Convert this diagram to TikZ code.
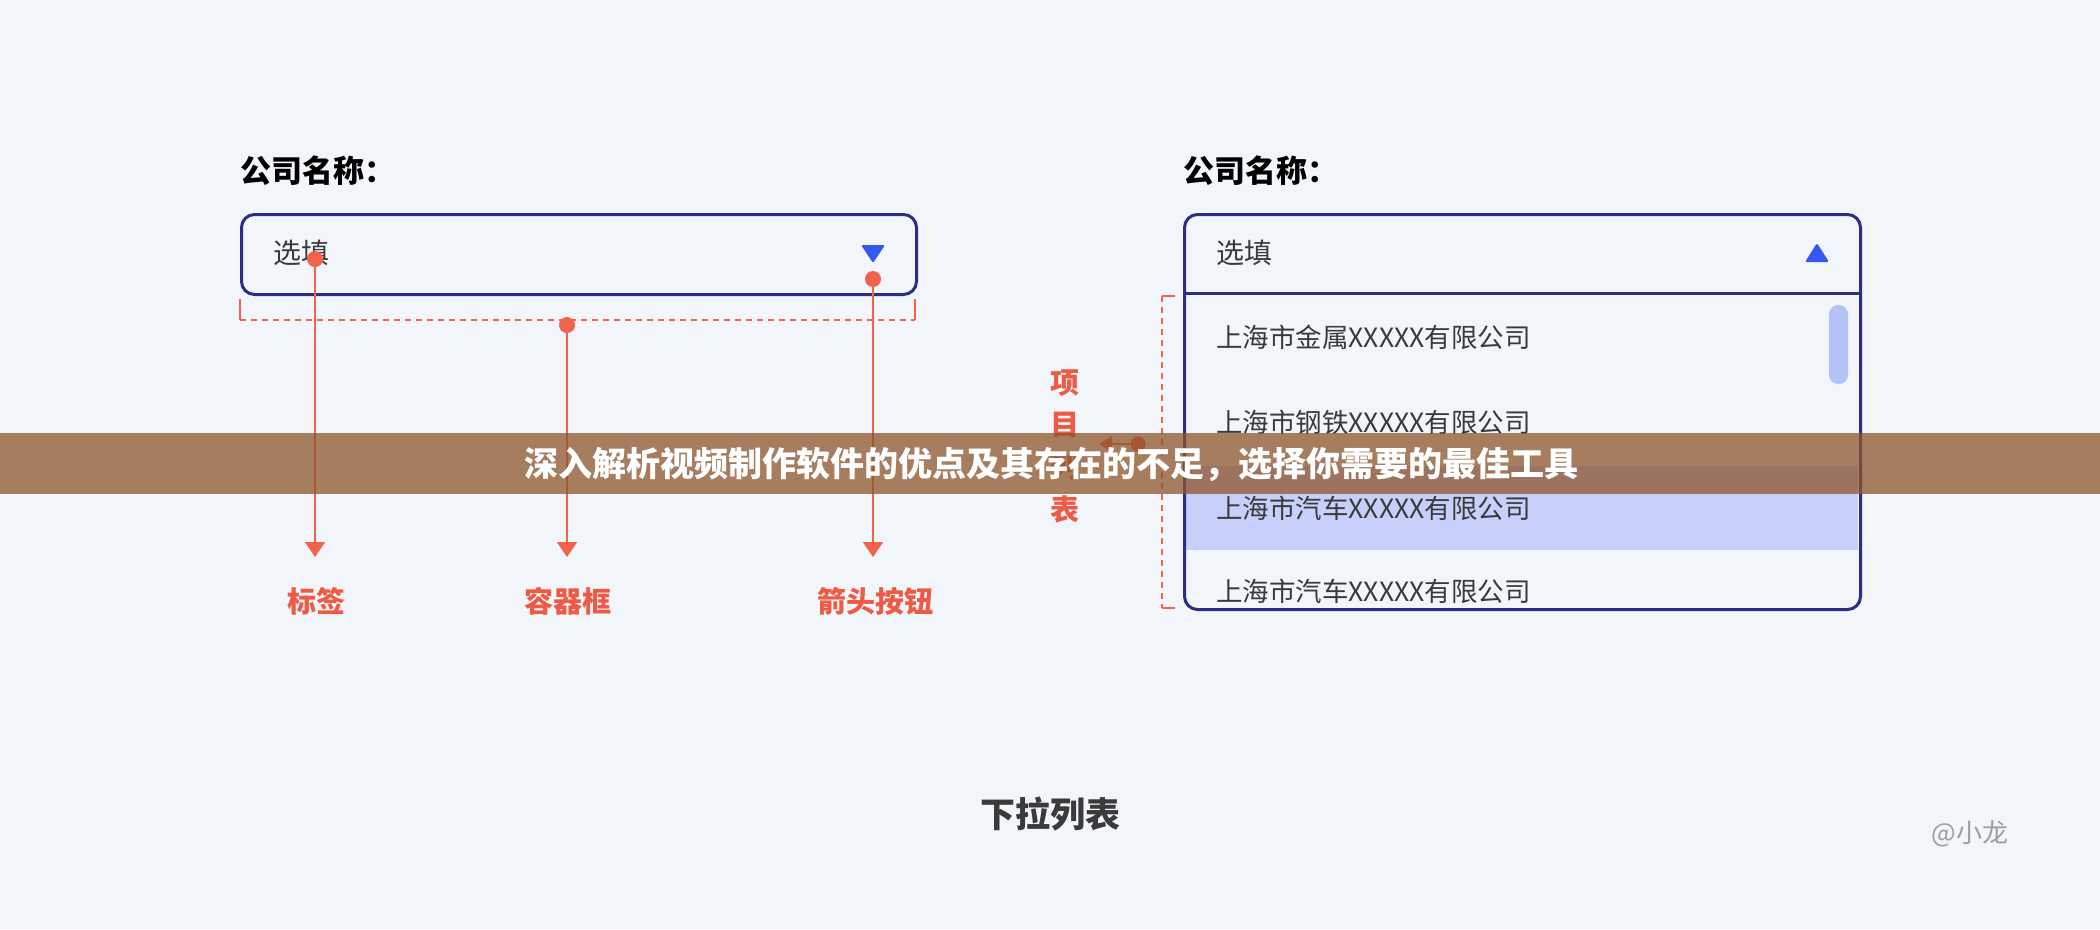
\documentclass[tikz,border=0pt]{standalone}
\usepackage{fontspec}
\usepackage{tikz}
\usetikzlibrary{arrows.meta,positioning,calc}
\newfontfamily\cjk{Noto Sans CJK SC}
\definecolor{pagebg}{HTML}{F2F5FA}
\definecolor{navyline}{HTML}{2B2E83}
\definecolor{arrowblue}{HTML}{3559F0}
\definecolor{redline}{HTML}{F2624C}
\definecolor{redtext}{HTML}{EF5A45}
\definecolor{darktext}{HTML}{3A3A3A}
\definecolor{hilite}{HTML}{C6D0FA}
\definecolor{scrollblue}{HTML}{B5C2F7}
\definecolor{bannerbrown}{HTML}{8D552A}
\definecolor{softgray}{HTML}{9E9E9E}

\begin{document}
\begin{tikzpicture}[x=1pt, y=-1pt, every node/.style={font=\cjk, inner sep=0pt},
  fieldbox/.style={draw=navyline, line width=3pt, rounded corners=13pt, anchor=north west},
  dotmark/.style={circle, fill=redline, minimum size=16pt},
  callout/.style={draw=redline, line width=1.6pt, -{Triangle[width=20pt, length=15pt]}},
  calloutlabel/.style={text=redtext, font=\cjk\bfseries\fontsize{29}{34}\selectfont},
  fieldtitle/.style={anchor=west, text=black, font=\cjk\bfseries\fontsize{31}{36}\selectfont},
  fieldvalue/.style={anchor=west, text=darktext, font=\cjk\fontsize{28}{32}\selectfont},
  listitem/.style={anchor=west, text=darktext, font=\cjk\fontsize{26.5}{30}\selectfont},
  bracket/.style={draw=redline, line width=1.4pt}]

  % page
  \fill[pagebg] (0,0) rectangle (2100,929);
  \useasboundingbox (0,0) rectangle (2100,929);

  % closed field
  \node[fieldtitle] (lefttitle) at (240,171) {公司名称：};
  \node[fieldbox, minimum width=675pt, minimum height=80pt] (leftbox) at (240,213) {};
  \node[fieldvalue] (leftvalue) at (273,253) {选填};
  \fill[arrowblue, rounded corners=1.5pt] (861,245) -- (885,245) -- (873,263) -- cycle;

  % callouts
  \draw[bracket] (240,299) -- (240,320);
  \draw[bracket] (915,299) -- (915,320);
  \draw[bracket, dash pattern=on 6pt off 5pt] (240,320) -- (915,320);

  \node[dotmark] (dotlabel) at (315,259) {};
  \node[dotmark] (dotbox) at (567,325) {};
  \node[dotmark] (dotarrow) at (873,279) {};
  \coordinate (tiplabel) at (315,557);
  \coordinate (tipbox) at (567,557);
  \coordinate (tiparrow) at (873,557);
  \draw[callout] (dotlabel.center) -- (tiplabel);
  \draw[callout] (dotbox.center) -- (tipbox);
  \draw[callout] (dotarrow.center) -- (tiparrow);

  \node[calloutlabel] (labeltext) at (316,601) {标签};
  \node[calloutlabel] (boxtext) at (568,601) {容器框};
  \node[calloutlabel] (arrowtext) at (875,601) {箭头按钮};

  % open field
  \node[fieldtitle] (righttitle) at (1183,171) {公司名称：};
  \fill[hilite] (1184.5,466) rectangle (1857.5,550);
  \node[fieldbox, minimum width=676pt, minimum height=395pt] (rightbox) at (1183,213) {};
  \draw[navyline, line width=3pt] (1183,293) -- (1859,293);
  \node[fieldvalue] (rightvalue) at (1216,253) {选填};
  \fill[arrowblue, rounded corners=1.5pt] (1805,262) -- (1829,262) -- (1817,243) -- cycle;
  \fill[scrollblue, rounded corners=9pt] (1829,305) rectangle (1848,384);

  \node[listitem] (item1) at (1216,337) {上海市金属XXXXX有限公司};
  \node[listitem] (item2) at (1216,422) {上海市钢铁XXXXX有限公司};
  \node[listitem] (item3) at (1216,508) {上海市汽车XXXXX有限公司};
  \node[listitem] (item4) at (1216,591) {上海市汽车XXXXX有限公司};

  % list bracket
  \draw[bracket, dash pattern=on 6pt off 5pt] (1162,296) -- (1162,608);
  \draw[bracket] (1162,296) -- (1175,296);
  \draw[bracket] (1162,608) -- (1175,608);

  \node[calloutlabel] (list1) at (1065,383) {项};
  \node[calloutlabel] (list2) at (1065,425) {目};
  \node[calloutlabel] (list3) at (1065,467) {列};
  \node[calloutlabel] (list4) at (1065,509) {表};
  \node[dotmark, minimum size=15pt] (dotlist) at (1138,444) {};
  \coordinate (tiplist) at (1099,444);
  \draw[draw=redline, line width=1.6pt, -{Triangle[width=16pt, length=13pt]}] (dotlist.center) -- (tiplist);

  % banner
  \fill[bannerbrown, opacity=0.75] (0,433) rectangle (2100,494);
  \node[text=white, font=\cjk\bfseries\fontsize{34}{38}\selectfont] (banner) at (1051,465)
    {深入解析视频制作软件的优点及其存在的不足，选择你需要的最佳工具};

  % footer
  \node[text=darktext, font=\cjk\bfseries\fontsize{35}{40}\selectfont] (caption) at (1050,814) {下拉列表};
  \node[text=softgray, font=\cjk\fontsize{26}{30}\selectfont] (credit) at (1970,834) {@小龙};
\end{tikzpicture}
\end{document}
